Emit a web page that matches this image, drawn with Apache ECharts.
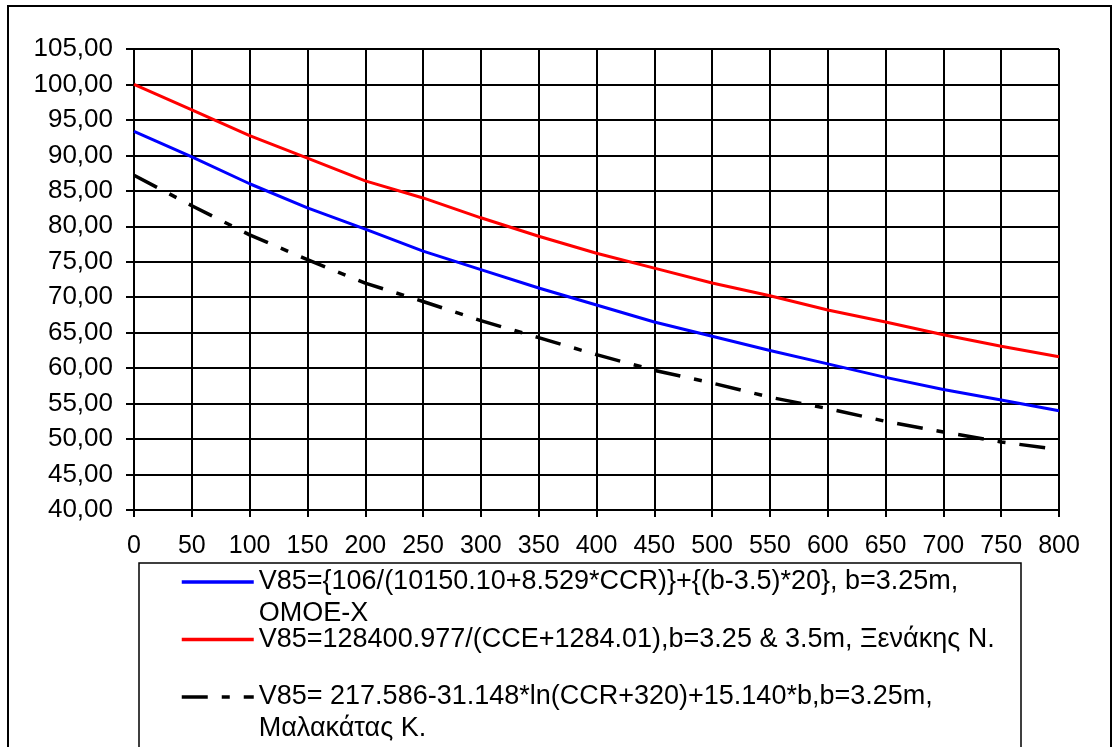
<!DOCTYPE html>
<html>
<head>
<meta charset="utf-8">
<script src="https://cdn.jsdelivr.net/npm/echarts@6/dist/echarts.min.js"></script>
<style>
html,body{margin:0;padding:0;background:#fff;}
#chart{width:1118px;height:747px;}
</style>
</head>
<body>
<div id="chart"></div>
<script>
var ccr = [0, 50, 100, 150, 200, 250, 300, 350, 400, 450, 500, 550, 600, 650, 700, 750, 800];
var omoeValues = [93.4, 89.8, 86.0, 82.6, 79.6, 76.5, 73.9, 71.3, 68.9, 66.5, 64.5, 62.5, 60.6, 58.7, 57.0, 55.5, 54.0];
var xenakisValues = [100.0, 96.4, 92.8, 89.6, 86.4, 84.0, 81.2, 78.6, 76.2, 74.1, 72.0, 70.2, 68.2, 66.5, 64.7, 63.1, 61.6];
var malakatasValues = [87.2, 82.9, 78.8, 75.3, 72.0, 69.4, 66.7, 64.3, 61.9, 59.7, 57.9, 55.9, 54.3, 52.5, 51.0, 49.6, 48.5];
var seriesNames = [
  'V85={106/(10150.10+8.529*CCR)}+{(b-3.5)*20}, b=3.25m,\nOMOE-X',
  'V85=128400.977/(CCE+1284.01),b=3.25 & 3.5m, Ξενάκης Ν.\n',
  'V85= 217.586-31.148*ln(CCR+320)+15.140*b,b=3.25m,\nΜαλακάτας Κ.'
];

function pairs(vals) { return ccr.map(function (x, i) { return [x, vals[i]]; }); }

var FONT = '"Liberation Sans", Arial, sans-serif';
var chart = echarts.init(document.getElementById('chart'), null, {renderer: 'canvas'});
chart.setOption({
  animation: false,
  backgroundColor: '#fff',
  grid: {left: 134, top: 49, width: 925, height: 461, containLabel: false},
  xAxis: {
    type: 'value', min: 0, max: 800, interval: 50,
    axisLine: {show: true, lineStyle: {color: '#000', width: 2}},
    axisTick: {show: true, length: 7, lineStyle: {color: '#000', width: 2}},
    axisLabel: {color: '#000', fontFamily: FONT, fontSize: 25, margin: 24},
    splitLine: {show: true, lineStyle: {color: '#000', width: 2}}
  },
  yAxis: {
    type: 'value', min: 40, max: 105, interval: 5,
    axisLine: {show: true, lineStyle: {color: '#000', width: 2}},
    axisTick: {show: true, length: 8, lineStyle: {color: '#000', width: 2}},
    axisLabel: {color: '#000', fontFamily: FONT, fontSize: 26, margin: 21,
      formatter: function (v) { return v.toFixed(2).replace('.', ','); }},
    splitLine: {show: true, lineStyle: {color: '#000', width: 2}}
  },
  legend: {
    orient: 'vertical', left: 180, top: 534, padding: 0,
    itemWidth: 72, itemHeight: 32, itemGap: -38.5,
    itemStyle: {opacity: 0},
    lineStyle: {width: 3.5},
    selectedMode: false,
    formatter: function (name) { return '\n' + name; },
    textStyle: {color: '#000', fontFamily: FONT, fontSize: 27, lineHeight: 32},
    data: seriesNames
  },
  series: [
    {name: seriesNames[0], type: 'line', data: pairs(omoeValues), symbol: 'none',
     lineStyle: {color: '#0000ff', width: 3}, itemStyle: {color: '#0000ff'}},
    {name: seriesNames[1], type: 'line', data: pairs(xenakisValues), symbol: 'none',
     lineStyle: {color: '#ff0000', width: 3}, itemStyle: {color: '#ff0000'}},
    {name: seriesNames[2], type: 'line', data: pairs(malakatasValues), symbol: 'none',
     lineStyle: {color: '#000', width: 3.5, type: [26, 14, 8, 14]}, itemStyle: {color: '#000'}}
  ],
  graphic: [
    {type: 'rect', shape: {x: 8, y: 6, width: 1103, height: 800}, style: {fill: 'none', stroke: '#000', lineWidth: 2}, silent: true},
    {type: 'rect', shape: {x: 139, y: 563, width: 882, height: 300}, style: {fill: 'none', stroke: '#000', lineWidth: 1.5}, silent: true}
  ]
});
</script>
</body>
</html>
